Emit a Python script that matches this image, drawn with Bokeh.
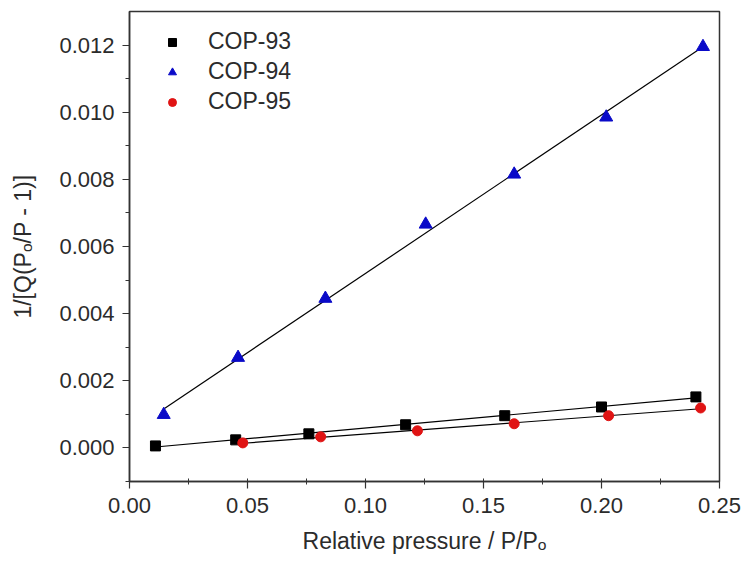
import numpy as np
from bokeh.plotting import figure
from bokeh.models import SingleIntervalTicker, NumeralTickFormatter, Range1d, Legend, LegendItem
from bokeh.embed import file_html
from bokeh.resources import INLINE

# ---- data ----
series_names = ["COP-93", "COP-94", "COP-95"]
x93 = [0.011, 0.045, 0.076, 0.117, 0.159, 0.200, 0.240]
y93 = [0.00006, 0.00024, 0.00042, 0.00069, 0.00096, 0.00122, 0.00152]
x94 = [0.0145, 0.046, 0.083, 0.1255, 0.163, 0.202, 0.243]
y94 = [0.00099, 0.00269, 0.00445, 0.00666, 0.00815, 0.00985, 0.01195]
x95 = [0.048, 0.081, 0.122, 0.163, 0.203, 0.242]
y95 = [0.00015, 0.00033, 0.00051, 0.00072, 0.00096, 0.00119]

x_label = "Relative pressure / P/P\u2092"
y_label = "1/[Q(P\u2092/P - 1)]"

FONT = "Liberation Sans"
TXT = "#2b2b2b"
AX = "#333333"

p = figure(width=743, height=568, output_backend="svg", toolbar_location=None,
           x_range=Range1d(0.0, 0.25), y_range=Range1d(-0.001, 0.013),
           min_border_left=129, min_border_right=24, min_border_top=11, min_border_bottom=87)
p.background_fill_color = "white"
p.border_fill_color = "white"
p.grid.visible = False
p.outline_line_color = AX
p.outline_line_width = 1.5

# fit lines
for xs, ys in [(x93, y93), (x94, y94), (x95, y95)]:
    k, b = np.polyfit(xs, ys, 1)
    xx = [min(xs), max(xs)]
    p.line(xx, [k * v + b for v in xx], line_color="black", line_width=1.2)

r93 = p.scatter(x93, y93, marker="square", size=10, fill_color="black", line_color="black")
r94 = p.scatter(x94, y94, marker="triangle", size=13, fill_color="#0a0ac8", line_color="#0a0ac8")
r95 = p.scatter(x95, y95, marker="circle", size=10, fill_color="#e01414", line_color="#e01414")

legend = Legend(items=[LegendItem(label=series_names[0], renderers=[r93]),
                       LegendItem(label=series_names[1], renderers=[r94]),
                       LegendItem(label=series_names[2], renderers=[r95])],
                location=(33, 366), border_line_color=None, background_fill_alpha=0,
                label_text_font=FONT, label_text_font_size="23px", label_text_color=TXT,
                glyph_width=20, glyph_height=24, label_height=24, label_standoff=26,
                spacing=3, padding=0, margin=0)
p.add_layout(legend)

# axes
xa = p.xaxis[0]
xa.ticker = SingleIntervalTicker(interval=0.05, num_minor_ticks=2)
xa.formatter = NumeralTickFormatter(format="0.00")
ya = p.yaxis[0]
ya.ticker = SingleIntervalTicker(interval=0.002, num_minor_ticks=2)
ya.formatter = NumeralTickFormatter(format="0.000")

for ax in (xa, ya):
    ax.axis_line_color = AX
    ax.axis_line_width = 1.5
    ax.major_tick_line_color = AX
    ax.minor_tick_line_color = AX
    ax.major_tick_line_width = 1.2
    ax.minor_tick_line_width = 1.0
    ax.major_tick_in = 0
    ax.major_tick_out = 7
    ax.major_label_text_font = FONT
    ax.major_label_text_font_size = "22px"
    ax.major_label_text_color = TXT
    ax.axis_label_text_font = FONT
    ax.axis_label_text_font_size = "23px"
    ax.axis_label_text_font_style = "normal"
    ax.axis_label_text_color = TXT

xa.minor_tick_in = 3
xa.minor_tick_out = 3
xa.major_label_standoff = 9
xa.axis_label_standoff = 12
xa.axis_label = x_label

ya.minor_tick_in = 0
ya.minor_tick_out = 4
ya.major_label_standoff = 8
ya.axis_label_standoff = 20
ya.axis_label = y_label

open("out.html", "w").write(file_html(p, INLINE))
